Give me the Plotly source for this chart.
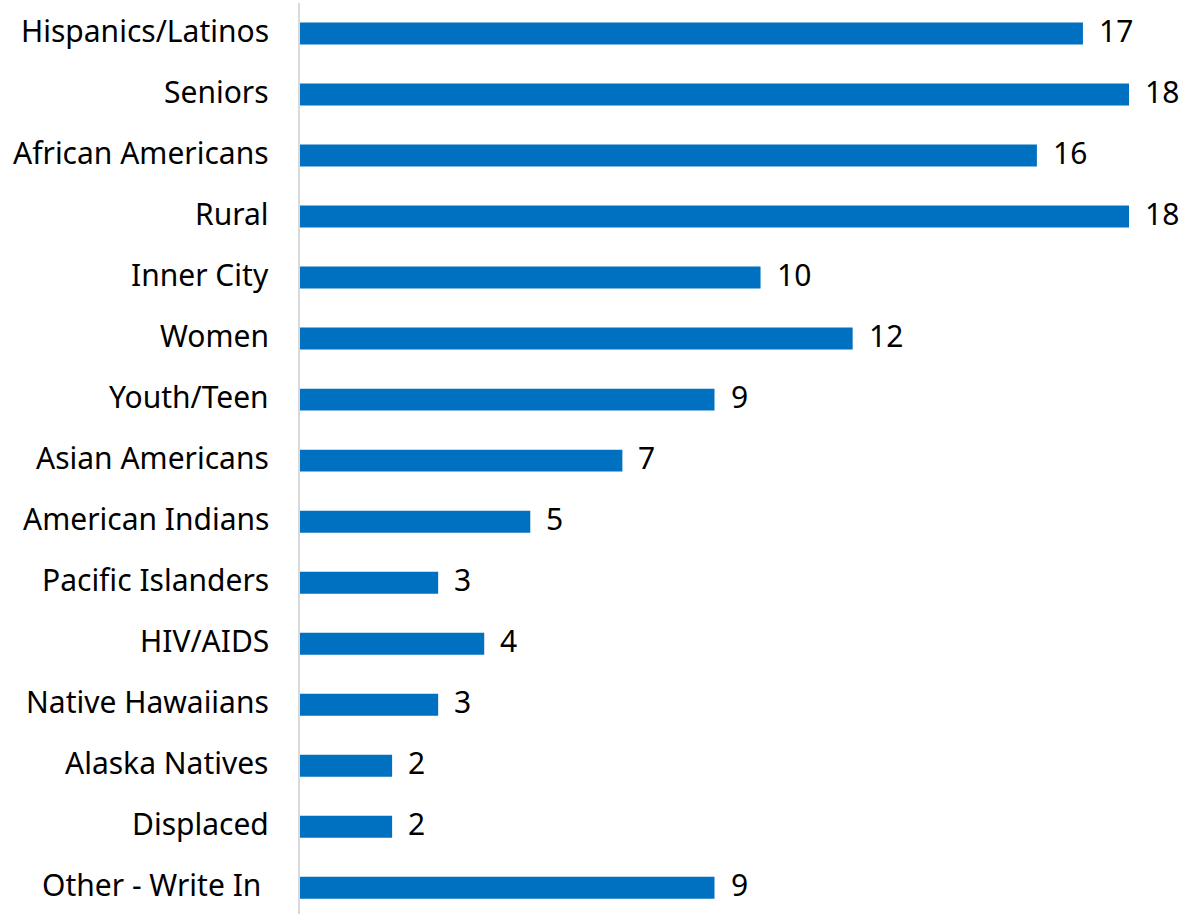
import plotly.graph_objects as go

categories = ["Hispanics/Latinos", "Seniors", "African Americans", "Rural", "Inner City",
              "Women", "Youth/Teen", "Asian Americans", "American Indians", "Pacific Islanders",
              "HIV/AIDS", "Native Hawaiians", "Alaska Natives", "Displaced", "Other - Write In\u00a0"]
values = [17, 18, 16, 18, 10, 12, 9, 7, 5, 3, 4, 3, 2, 2, 9]

FONT = "Noto Sans"
SIZE = 30
fig = go.Figure()
fig.add_trace(go.Bar(
    x=values, y=categories, orientation="h",
    marker=dict(color="#0070C0", line=dict(width=0)),
    width=0.36,
    hoverinfo="skip",
))
for c, v in zip(categories, values):
    fig.add_annotation(x=v, y=c, text=str(v), showarrow=False, xanchor="left",
                       xshift=14, yshift=3, font=dict(family=FONT, size=SIZE, color="#000000"))
    fig.add_annotation(x=0, y=c, text=c, showarrow=False, xanchor="right",
                       xshift=-29, yshift=3, font=dict(family=FONT, size=SIZE, color="#000000"))

fig.update_layout(
    width=1199, height=914,
    margin=dict(l=300, r=0, t=3, b=0),
    paper_bgcolor="white", plot_bgcolor="white",
    showlegend=False,
    font=dict(family=FONT, size=SIZE, color="#000000"),
)
fig.update_xaxes(range=[0, 19.52], visible=False, showgrid=False, zeroline=False)
fig.update_yaxes(
    type="category", categoryorder="array", categoryarray=categories,
    range=[14.43, -0.5], showgrid=False, zeroline=False,
    showline=True, linecolor="#d9d9d9", linewidth=2,
    showticklabels=False, ticks="",
)
fig.write_html("out.html")
